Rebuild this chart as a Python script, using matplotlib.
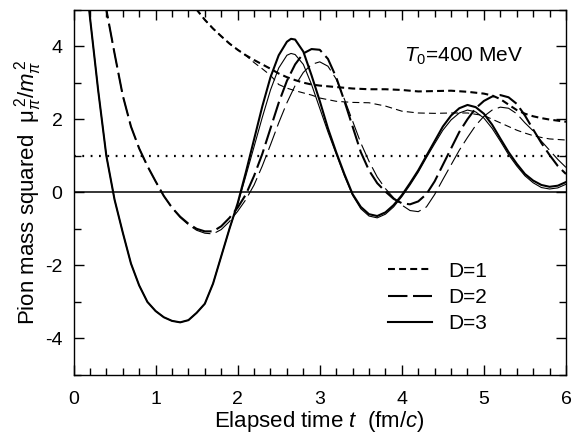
import matplotlib
matplotlib.use("Agg")
import matplotlib.pyplot as plt
from matplotlib.lines import Line2D
from matplotlib.ticker import MultipleLocator

plt.rcParams['font.family'] = ['Liberation Sans', 'DejaVu Sans']
plt.rcParams['mathtext.fontset'] = 'custom'
plt.rcParams['mathtext.rm'] = 'Liberation Sans'
plt.rcParams['mathtext.it'] = 'Liberation Sans:italic'
plt.rcParams['mathtext.bf'] = 'Liberation Sans:bold'
plt.rcParams['lines.scale_dashes'] = False

# ---------------- data ----------------
# D=3 (solid) thick and thin
t_d3 = [0.1, 0.2, 0.3, 0.4, 0.5, 0.6, 0.7, 0.8, 0.9, 1.0, 1.1, 1.2, 1.3, 1.4, 1.5,
        1.6, 1.7, 1.8, 1.9, 2.0, 2.1, 2.2, 2.3, 2.4, 2.5, 2.6, 2.65, 2.7, 2.8, 2.9,
        3.0, 3.1, 3.2, 3.3, 3.4, 3.5, 3.6, 3.7, 3.8, 3.9, 4.0, 4.1, 4.2, 4.3, 4.4,
        4.5, 4.6, 4.7, 4.8, 4.9, 5.0, 5.1, 5.2, 5.3, 5.4, 5.5, 5.6, 5.7, 5.8, 5.9, 6.0]
d3_thick = [7.0, 4.8, 2.8, 1.0, -0.2, -1.1, -1.95, -2.55, -3.0, -3.25, -3.42, -3.52, -3.56, -3.5, -3.3,
            -3.05, -2.5, -1.75, -1.0, -0.3, 0.55, 1.45, 2.35, 3.15, 3.75, 4.12, 4.2, 4.18, 3.85, 3.2,
            2.5, 1.75, 1.1, 0.5, -0.05, -0.4, -0.6, -0.65, -0.55, -0.35, -0.08, 0.25, 0.6, 1.0, 1.4,
            1.8, 2.1, 2.3, 2.39, 2.33, 2.15, 1.85, 1.47, 1.1, 0.78, 0.5, 0.32, 0.2, 0.15, 0.18, 0.28]
d3_thin = [7.0, 4.8, 2.8, 1.0, -0.2, -1.1, -1.95, -2.55, -3.0, -3.25, -3.42, -3.52, -3.56, -3.5, -3.3,
           -3.05, -2.5, -1.75, -1.0, -0.33, 0.45, 1.25, 2.05, 2.8, 3.4, 3.75, 3.8, 3.77, 3.5, 2.95,
           2.3, 1.65, 1.05, 0.45, -0.08, -0.45, -0.65, -0.7, -0.6, -0.4, -0.12, 0.2, 0.55, 0.95, 1.33,
           1.7, 1.98, 2.17, 2.25, 2.2, 2.03, 1.75, 1.4, 1.03, 0.72, 0.45, 0.26, 0.13, 0.09, 0.12, 0.22]

# D=2 (long dash) thick and thin
t_d2 = [0.3, 0.4, 0.5, 0.6, 0.7, 0.8, 0.9, 1.0, 1.1, 1.2, 1.3, 1.4, 1.5, 1.6, 1.7,
        1.8, 1.9, 2.0, 2.1, 2.2, 2.3, 2.4, 2.5, 2.6, 2.7, 2.8, 2.9, 3.0, 3.1, 3.2,
        3.3, 3.4, 3.5, 3.6, 3.7, 3.8, 3.9, 4.0, 4.1, 4.2, 4.3, 4.4, 4.5, 4.6, 4.7,
        4.8, 4.9, 5.0, 5.1, 5.2, 5.3, 5.4, 5.5, 5.6, 5.7, 5.8, 5.9, 6.0]
d2_thick = [7.5, 5.0, 3.8, 2.65, 1.8, 1.2, 0.72, 0.3, -0.1, -0.42, -0.67, -0.86, -1.0, -1.07, -1.07,
            -0.93, -0.7, -0.42, -0.06, 0.45, 1.05, 1.75, 2.45, 3.05, 3.5, 3.8, 3.92, 3.9, 3.65, 3.15,
            2.5, 1.8, 1.1, 0.6, 0.25, 0.02, -0.18, -0.3, -0.33, -0.25, -0.05, 0.3, 0.75, 1.2, 1.65,
            2.0, 2.3, 2.5, 2.62, 2.66, 2.6, 2.42, 2.1, 1.72, 1.35, 1.02, 0.72, 0.5]
d2_thin = [7.5, 5.0, 3.8, 2.65, 1.8, 1.2, 0.72, 0.3, -0.1, -0.43, -0.69, -0.89, -1.04, -1.12, -1.14,
           -1.02, -0.8, -0.52, -0.2, 0.2, 0.72, 1.3, 1.9, 2.45, 2.92, 3.28, 3.5, 3.57, 3.45, 3.1,
           2.55, 1.95, 1.35, 0.85, 0.42, 0.1, -0.15, -0.35, -0.5, -0.53, -0.4, -0.06, 0.35, 0.75, 1.15,
           1.5, 1.83, 2.08, 2.25, 2.33, 2.3, 2.15, 1.9, 1.68, 1.4, 1.15, 0.9, 0.68]

# D=1 (short dash) thick and thin
t_d1 = [1.4, 1.5, 1.6, 1.7, 1.8, 1.9, 2.0, 2.1, 2.2, 2.3, 2.4, 2.5, 2.6, 2.7, 2.8,
        2.9, 3.0, 3.2, 3.4, 3.6, 3.8, 4.0, 4.2, 4.4, 4.6, 4.8, 5.0, 5.1, 5.2, 5.3,
        5.4, 5.5, 5.6, 5.7, 5.8, 6.0]
d1_thick = [5.4, 5.0, 4.72, 4.48, 4.27, 4.07, 3.9, 3.75, 3.62, 3.5, 3.38, 3.25, 3.15, 3.07, 3.0,
            2.95, 2.92, 2.88, 2.84, 2.82, 2.82, 2.8, 2.76, 2.77, 2.78, 2.75, 2.7, 2.65, 2.55, 2.4,
            2.25, 2.15, 2.08, 2.03, 1.99, 1.93]
d1_thin = [5.4, 5.0, 4.72, 4.48, 4.27, 4.07, 3.9, 3.74, 3.55, 3.38, 3.2, 2.95, 2.85, 2.78, 2.72,
           2.66, 2.58, 2.49, 2.46, 2.45, 2.36, 2.22, 2.17, 2.16, 2.17, 2.17, 2.1, 2.0, 1.9, 1.8,
           1.7, 1.62, 1.55, 1.5, 1.46, 1.43]

ref_levels = [0, 1]
legend_labels = ['D=1', 'D=2', 'D=3']
annotation = r'$T_0$=400 MeV'

# ---------------- styles ----------------
short_dash = (0, (5, 3))
long_dash = (0, (14, 4))
lw_thick = 1.5
lw_thin = 0.8

fig = plt.figure(figsize=(5.72, 4.36), dpi=100)
ax = fig.add_axes([0.1285, 0.14, 0.861, 0.838])

ax.axhline(ref_levels[0], color='black', lw=1.1)
ax.axhline(ref_levels[1], color='black', lw=1.6, linestyle=(0, (1.3, 4.7)))

ax.plot(t_d3, d3_thick, color='black', lw=lw_thick, linestyle='-')
ax.plot(t_d3, d3_thin, color='black', lw=lw_thin, linestyle='-')
ax.plot(t_d2, d2_thick, color='black', lw=lw_thick, linestyle=long_dash)
ax.plot(t_d2, d2_thin, color='black', lw=lw_thin, linestyle=long_dash)
ax.plot(t_d1, d1_thick, color='black', lw=lw_thick, linestyle=short_dash)
ax.plot(t_d1, d1_thin, color='black', lw=lw_thin, linestyle=short_dash)

ax.set_xlim(0, 6)
ax.set_ylim(-5, 5)
ax.xaxis.set_major_locator(MultipleLocator(1))
ax.xaxis.set_minor_locator(MultipleLocator(0.2))
ax.yaxis.set_minor_locator(MultipleLocator(1))
ax.set_yticks([-4, -2, 0, 2, 4])
ax.set_yticklabels(['-4', '-2', '0', '2', '4'])
ax.tick_params(which='both', direction='in', top=True, right=True, width=1.0)
ax.tick_params(which='major', length=7.2, labelsize=14)
ax.tick_params(axis='x', which='major', pad=11.5)
ax.tick_params(axis='y', which='major', pad=8)
ax.tick_params(which='minor', length=4.8)
for s in ax.spines.values():
    s.set_linewidth(1.0)

ax.set_xlabel(r'Elapsed time $t$  (fm/$c$)', fontsize=16, labelpad=1)
ax.set_ylabel(r'Pion mass squared  $\mathrm{\mu}_\pi^{\,2}/m_\pi^{\,2}$', fontsize=16, labelpad=1)

ax.text(4.03, 3.57, annotation, fontsize=15, ha='left', va='baseline')

handles = [Line2D([], [], color='black', lw=lw_thick, linestyle=short_dash),
           Line2D([], [], color='black', lw=lw_thick, linestyle=long_dash),
           Line2D([], [], color='black', lw=lw_thick, linestyle='-')]
ax.legend(handles, legend_labels, loc='upper left', bbox_to_anchor=(0.639, 0.31),
          frameon=False, fontsize=15, handlelength=2.1, handletextpad=0.8,
          labelspacing=0.35, borderpad=0, borderaxespad=0)

fig.savefig('out.png', dpi=100)
